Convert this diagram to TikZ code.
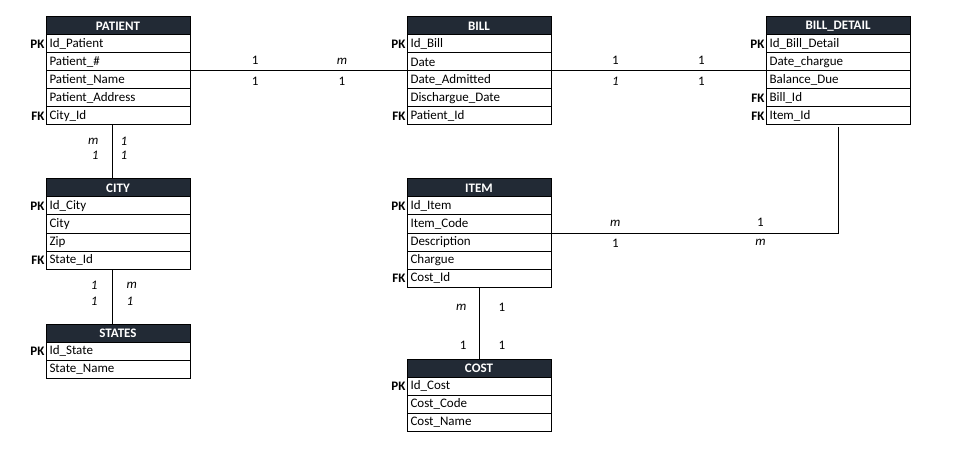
\documentclass[tikz,border=0pt]{standalone}
\usepackage{fontspec}
\setmainfont{Carlito}
\usepackage{tikz}
\usetikzlibrary{positioning}
\definecolor{hdr}{RGB}{34,42,53}
\newcommand{\erfont}{\fontsize{13}{15}\selectfont}
\tikzstyle{head} = [draw, fill=hdr, text=white, font=\erfont\bfseries, minimum width=144pt, minimum height=18pt, inner sep=0pt, outer sep=0pt, anchor=north west]
\tikzstyle{row}  = [draw, font=\erfont, text width=137pt, align=left, minimum height=18pt, inner xsep=3.5pt, inner ysep=0pt, outer sep=0pt]
\tikzstyle{key}  = [font=\erfont\bfseries, inner sep=1pt]
\tikzstyle{card} = [font=\erfont, inner sep=1pt]
\tikzstyle{link} = [line width=1pt]

\begin{document}
\begin{tikzpicture}[x=1pt,y=-1pt,line width=1pt]
    \useasboundingbox (0,0) rectangle (958,449);

    % PATIENT
    \node[head] (phead) at (46,17) {PATIENT};
    \node[row, below=0pt of phead] (pid) {Id\_Patient};
    \node[row, below=0pt of pid] (pnum) {Patient\_\#};
    \node[row, below=0pt of pnum] (pname) {Patient\_Name};
    \node[row, below=0pt of pname] (paddr) {Patient\_Address};
    \node[row, below=0pt of paddr] (pcity) {City\_Id};
    \node[key, left=0pt of pid] (pk1) {PK};
    \node[key, left=0pt of pcity] (fk1) {FK};

    % BILL
    \node[head] (bhead) at (407,17) {BILL};
    \node[row, below=0pt of bhead] (bid) {Id\_Bill};
    \node[row, below=0pt of bid] (bdate) {Date};
    \node[row, below=0pt of bdate] (badm) {Date\_Admitted};
    \node[row, below=0pt of badm] (bdis) {Dischargue\_Date};
    \node[row, below=0pt of bdis] (bpat) {Patient\_Id};
    \node[key, left=0pt of bid] (pk2) {PK};
    \node[key, left=0pt of bpat] (fk2) {FK};

    % BILL_DETAIL
    \node[head] (dhead) at (766,17) {BILL\_DETAIL};
    \node[row, below=0pt of dhead] (did) {Id\_Bill\_Detail};
    \node[row, below=0pt of did] (dchg) {Date\_chargue};
    \node[row, below=0pt of dchg] (dbal) {Balance\_Due};
    \node[row, below=0pt of dbal] (dbill) {Bill\_Id};
    \node[row, below=0pt of dbill] (ditem) {Item\_Id};
    \node[key, left=0pt of did] (pk3) {PK};
    \node[key, left=0pt of dbill] (fk3) {FK};
    \node[key, left=0pt of ditem] (fk4) {FK};

    % ITEM
    \node[head] (ihead) at (407,179) {ITEM};
    \node[row, below=0pt of ihead] (iid) {Id\_Item};
    \node[row, below=0pt of iid] (icode) {Item\_Code};
    \node[row, below=0pt of icode] (idesc) {Description};
    \node[row, below=0pt of idesc] (ichg) {Chargue};
    \node[row, below=0pt of ichg] (icost) {Cost\_Id};
    \node[key, left=0pt of iid] (pk4) {PK};
    \node[key, left=0pt of icost] (fk5) {FK};

    % COST
    \node[head] (chead) at (407,359) {COST};
    \node[row, below=0pt of chead] (cid) {Id\_Cost};
    \node[row, below=0pt of cid] (ccode) {Cost\_Code};
    \node[row, below=0pt of ccode] (cname) {Cost\_Name};
    \node[key, left=0pt of cid] (pk5) {PK};

    % CITY
    \node[head] (thead) at (46,179) {CITY};
    \node[row, below=0pt of thead] (tid) {Id\_City};
    \node[row, below=0pt of tid] (tcity) {City};
    \node[row, below=0pt of tcity] (tzip) {Zip};
    \node[row, below=0pt of tzip] (tstate) {State\_Id};
    \node[key, left=0pt of tid] (pk6) {PK};
    \node[key, left=0pt of tstate] (fk6) {FK};

    % STATES
    \node[head] (shead) at (46,324) {STATES};
    \node[row, below=0pt of shead] (sid) {Id\_State};
    \node[row, below=0pt of sid] (sname) {State\_Name};
    \node[key, left=0pt of sid] (pk7) {PK};

    % relations
    \draw[link] (pnum.south east) --
        node[card, pos=0.3, above=5pt] (r1a) {1}
        node[card, pos=0.7, above=5pt] (r1b) {\textit{m}}
        node[card, pos=0.3, below=5pt] (r1c) {1}
        node[card, pos=0.7, below=5pt] (r1d) {1} (bdate.south west);

    \draw[link] (bdate.south east) --
        node[card, pos=0.3, above=5pt] (r2a) {1}
        node[card, pos=0.7, above=5pt] (r2b) {1}
        node[card, pos=0.3, below=5pt] (r2c) {\textit{1}}
        node[card, pos=0.7, below=5pt] (r2d) {1} (dchg.south west);

    \coordinate (bend) at (ditem.south |- icode.south east);
    \draw[link] (icode.south east) --
        node[card, pos=0.224, above=5pt] (r3a) {\textit{m}}
        node[card, pos=0.73, above=5pt] (r3b) {1}
        node[card, pos=0.224, below=5pt] (r3c) {1}
        node[card, pos=0.73, below=5pt] (r3d) {\textit{m}} (bend) -- ([yshift=-2pt]ditem.south);

    \draw[link] ([xshift=-6pt]pcity.south) --
        node[card, pos=0.3, left=12pt] (r4a) {\textit{m}}
        node[card, pos=0.3, right=7pt] (r4b) {\textit{1}}
        node[card, pos=0.57, left=12pt] (r4c) {\textit{1}}
        node[card, pos=0.57, right=7pt] (r4d) {\textit{1}} ([xshift=-6pt]thead.north);

    \draw[link] ([xshift=-6pt]tstate.south) --
        node[card, pos=0.29, left=13pt] (r5a) {\textit{1}}
        node[card, pos=0.29, right=13pt] (r5b) {\textit{m}}
        node[card, pos=0.58, left=13pt] (r5c) {\textit{1}}
        node[card, pos=0.58, right=13pt] (r5d) {\textit{1}} ([xshift=-6pt]shead.north);

    \draw[link] (icost.south) --
        node[card, pos=0.28, left=11pt] (r6a) {\textit{m}}
        node[card, pos=0.28, right=18pt] (r6b) {1}
        node[card, pos=0.81, left=11pt] (r6c) {1}
        node[card, pos=0.81, right=18pt] (r6d) {1} (chead.north);
\end{tikzpicture}
\end{document}
